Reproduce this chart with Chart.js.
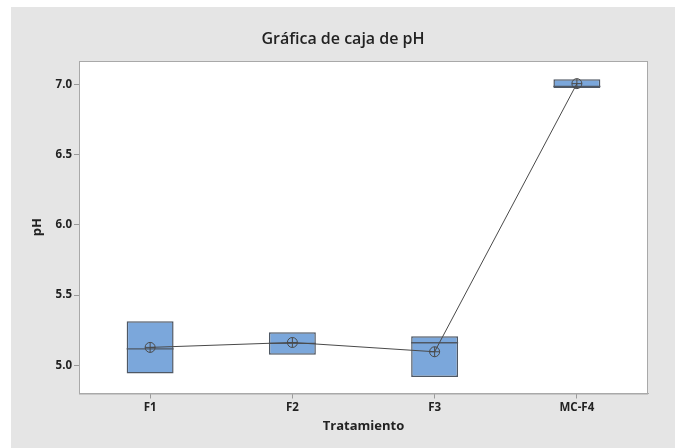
<!DOCTYPE html>
<html>
<head>
<meta charset="utf-8">
<script src="https://cdn.jsdelivr.net/npm/chart.js"></script>
<style>
  html, body { margin: 0; padding: 0; background: #fff; }
  #wrap { width: 675px; height: 448px; }
</style>
</head>
<body>
<div id="wrap"><canvas id="phChart" width="675" height="448"></canvas></div>
<script>
// datos
const categories = ["F1", "F2", "F3", "MC-F4"];
const q1 = [4.943, 5.075, 4.917, 6.974];
const q3 = [5.315, 5.235, 5.208, 7.036];
const medians = [5.118, 5.156, 5.161, 6.985];
const means = [5.128, 5.163, 5.097, 7.005];
const yTicks = [5.0, 5.5, 6.0, 6.5, 7.0];

const boxFill = "#7ba7db";
const boxLine = "#4f5864";
const meanColor = "#4a4a4a";
const fontFamily = "'Open Sans', 'Noto Sans', sans-serif";

const canvas = document.getElementById("phChart");
const ctx = canvas.getContext("2d");

const data = {
  labels: categories,
  datasets: [
    {
      // cajas (Q1 - Q3)
      type: "bar",
      data: q1.map((v, i) => [v, q3[i]]),
      backgroundColor: boxFill,
      borderColor: boxLine,
      borderWidth: 1.5,
      borderSkipped: false,
      categoryPercentage: 1,
      barPercentage: 0.33,
      order: 4,
    },
    {
      // medianas
      type: "line",
      data: medians,
      showLine: false,
      pointStyle: "line",
      pointRadius: 23.5,
      pointBorderColor: boxLine,
      pointBorderWidth: 1.3,
      order: 3,
    },
    {
      // medias conectadas
      type: "line",
      data: means,
      borderColor: meanColor,
      borderWidth: 1,
      tension: 0,
      fill: false,
      pointStyle: "circle",
      pointRadius: 5,
      pointBackgroundColor: "rgba(0,0,0,0)",
      pointBorderColor: meanColor,
      pointBorderWidth: 1,
      order: 2,
    },
    {
      type: "line",
      data: means,
      showLine: false,
      pointStyle: "cross",
      pointRadius: 5,
      pointBorderColor: meanColor,
      pointBorderWidth: 1,
      order: 1,
    },
  ],
};

const config = {
  type: "bar",
  data: data,
  options: {
    responsive: false,
    animation: false,
    layout: {
      padding: { top: 0, left: 11, right: 0, bottom: 0 },
    },
    plugins: {
      legend: { display: false },
      tooltip: { enabled: false },
      title: {
        display: true,
        text: "Gráfica de caja de pH",
        color: "#222",
        font: { family: fontFamily, size: 16, weight: "600", lineHeight: 1.2 },
        padding: { top: 30, bottom: 11.8 },
      },
    },
    scales: {
      x: {
        offset: true,
        border: { display: true, color: "#a9a9a9", width: 1 },
        grid: {
          display: true,
          offset: false,
          drawOnChartArea: false,
          drawTicks: true,
          tickLength: 5,
          tickColor: "#9a9a9a",
        },
        ticks: {
          padding: 2,
          color: "#222",
          font: { family: fontFamily, size: 11.5, weight: "bold" },
        },
        title: {
          display: true,
          text: "Tratamiento",
          color: "#222",
          font: { family: fontFamily, size: 13, weight: "bold", lineHeight: 1.2 },
          padding: { top: 0, bottom: 14 },
        },
        afterFit: (axis) => {
          axis.height = 54.5;
        },
      },
      y: {
        min: 4.8,
        max: 7.166,
        border: { display: true, color: "#a9a9a9", width: 1 },
        grid: {
          display: true,
          drawOnChartArea: false,
          drawTicks: true,
          tickLength: 5,
          tickColor: "#9a9a9a",
        },
        afterBuildTicks: (axis) => {
          axis.ticks = yTicks.map((v) => ({ value: v }));
        },
        ticks: {
          padding: 2,
          color: "#222",
          font: { family: fontFamily, size: 11.5, weight: "bold" },
          callback: (v) => Number(v).toFixed(1),
        },
        title: {
          display: true,
          text: "pH",
          color: "#222",
          font: { family: fontFamily, size: 13, weight: "bold", lineHeight: 1.2 },
          padding: { top: 18, bottom: 0 },
        },
        afterFit: (axis) => {
          axis.width = 68;
        },
      },
      // margen derecho (sin marcas) para centrar el título en el panel gris
      yRight: {
        position: "right",
        min: 4.8,
        max: 7.166,
        border: { display: false },
        grid: { display: false },
        ticks: { display: false },
        afterFit: (axis) => {
          axis.width = 27;
        },
      },
    },
  },
  plugins: [
    {
      // fondo gris y área de trazado blanca con marco
      id: "minitab_background",
      beforeDraw: (chart) => {
        const { ctx, width, height, chartArea } = chart;
        ctx.save();
        ctx.fillStyle = "#ffffff";
        ctx.fillRect(0, 0, width, height);
        ctx.fillStyle = "#e5e5e5";
        ctx.fillRect(11, 7, width - 11, height - 7);
        ctx.fillStyle = "#ffffff";
        ctx.fillRect(chartArea.left, chartArea.top, chartArea.right - chartArea.left, chartArea.bottom - chartArea.top);
        ctx.restore();
      },
      afterDraw: (chart) => {
        const { ctx, chartArea } = chart;
        ctx.save();
        ctx.strokeStyle = "#a9a9a9";
        ctx.lineWidth = 1;
        ctx.strokeRect(chartArea.left + 0.5, chartArea.top + 0.5, chartArea.right - chartArea.left - 1, chartArea.bottom - chartArea.top);
        ctx.restore();
      },
    },
  ],
};

new Chart(ctx, config);
</script>
</body>
</html>
